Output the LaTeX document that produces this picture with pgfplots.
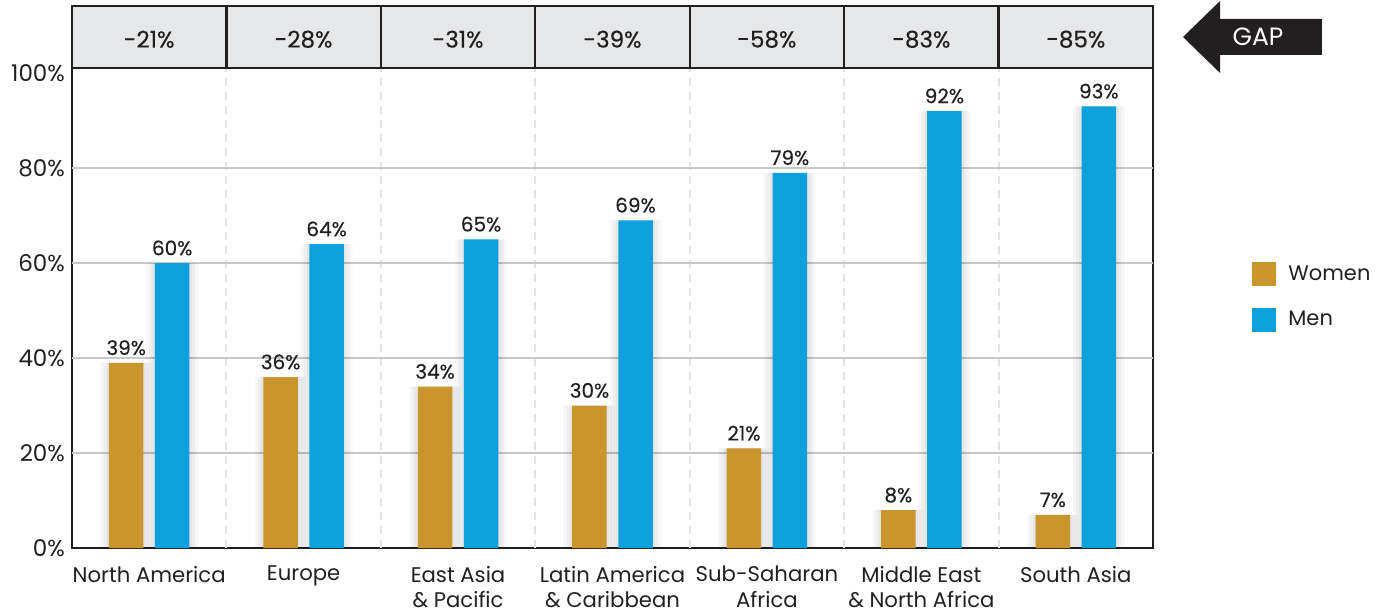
\documentclass[border=0pt]{standalone}
\usepackage{fontspec}
\setmainfont{Poppins}
\newfontfamily\pmed[FakeBold=0.4]{Poppins}
\usepackage{pgfplots}
\pgfplotsset{compat=1.18}
\definecolor{women}{HTML}{C9952C}
\definecolor{men}{HTML}{0EA0DC}
\definecolor{dark}{HTML}{231F20}
\definecolor{hdr}{HTML}{E6E7E8}
\definecolor{gridc}{HTML}{C8C8C8}
\definecolor{dashc}{HTML}{E2E2E2}
\pgfplotstableread{
x women men
0 39 60
1 36 64
2 34 65
3 30 69
4 21 79
5 8 92
6 7 93
}\datatable
\pgfplotsset{
  shadowW/.style={ybar, bar width=#1, bar shift=-0.149, fill=black, draw=none, forget plot},
  shadowM/.style={ybar, bar width=#1, bar shift=0.149, fill=black, draw=none, forget plot},
}
\begin{document}
\begin{tikzpicture}
\begin{axis}[
  scale only axis, width=540.5pt, height=240pt,
  xmin=-0.5, xmax=6.5, ymin=0, ymax=101.05,
  clip=false,
  /pgf/number format/assume math mode=true,
  axis line style={dark, line width=1.4pt},
  major tick length=0pt,
  xtick={0,1,2,3,4,5,6},
  xticklabels={North America, Europe, East Asia\\\& Pacific, Latin America\\\& Caribbean, Sub-Saharan\\Africa, Middle East\\\& North Africa, South Asia},
  xticklabel style={align=center, font=\fontsize{10.6}{12.6}\selectfont, text=dark, yshift=-5.5pt},
  ytick={0,20,40,60,80,100},
  yticklabels={0\%,20\%,40\%,60\%,80\%,100\%},
  yticklabel style={font=\fontsize{11.5}{12}\selectfont, text=dark},
  extra y ticks={20,40,60,80},
  extra y tick labels={},
  extra y tick style={grid=major, major grid style={gridc, line width=1pt}},
  extra x ticks={0.5,1.5,2.5,3.5,4.5,5.5},
  extra x tick labels={},
  extra x tick style={grid=major, major grid style={dashc, line width=1pt, dash pattern=on 4pt off 3pt}},
  legend style={draw=none, fill=none, at={(1.086,0.523)}, anchor=west,
    font=\fontsize{10.5}{12}\selectfont, text=dark, row sep=10pt,
    /tikz/every odd column/.append style={column sep=4pt}},
  legend cell align=left,
]
% shadows
\addplot[shadowW=0.3334, fill opacity=0.03] table[x=x,y=women]{\datatable};
\addplot[shadowM=0.3334, fill opacity=0.03] table[x=x,y=men]{\datatable};
\addplot[shadowW=0.2934, fill opacity=0.035] table[x=x,y=women]{\datatable};
\addplot[shadowM=0.2934, fill opacity=0.035] table[x=x,y=men]{\datatable};
\addplot[shadowW=0.2534, fill opacity=0.04] table[x=x,y=women]{\datatable};
\addplot[shadowM=0.2534, fill opacity=0.04] table[x=x,y=men]{\datatable};
\addplot[ybar, bar width=0.2234, bar shift=-0.149, fill=women, draw=none,
  nodes near coords={\pgfmathprintnumber{\pgfplotspointmeta}\%},
  nodes near coords style={font=\pmed\fontsize{10}{11}\selectfont, text=dark, anchor=base, yshift=3.9pt, xshift=-11.5pt},
  legend image code/.code={\fill[women] (0pt,-6pt) rectangle (12pt,6pt);}]
  table[x=x,y=women]{\datatable};
\addlegendentry{Women}
\addplot[ybar, bar width=0.2234, bar shift=0.149, fill=men, draw=none,
  nodes near coords={\pgfmathprintnumber{\pgfplotspointmeta}\%},
  nodes near coords style={font=\pmed\fontsize{10}{11}\selectfont, text=dark, anchor=base, yshift=3.9pt, xshift=11.5pt},
  legend image code/.code={\fill[men] (0pt,-6pt) rectangle (12pt,6pt);}]
  table[x=x,y=men]{\datatable};
\addlegendentry{Men}
% header
\draw[dark, line width=1.2pt, fill=hdr] (axis cs:-0.5,101.05) rectangle (axis cs:6.5,114.1);
\draw[dark, line width=1.2pt] (axis cs:0.5,101.05) -- (axis cs:0.5,114.1);
\draw[dark, line width=1.2pt] (axis cs:1.5,101.05) -- (axis cs:1.5,114.1);
\draw[dark, line width=1.2pt] (axis cs:2.5,101.05) -- (axis cs:2.5,114.1);
\draw[dark, line width=1.2pt] (axis cs:3.5,101.05) -- (axis cs:3.5,114.1);
\draw[dark, line width=1.2pt] (axis cs:4.5,101.05) -- (axis cs:4.5,114.1);
\draw[dark, line width=1.2pt] (axis cs:5.5,101.05) -- (axis cs:5.5,114.1);
\node[font=\pmed\fontsize{11.5}{12}\selectfont, text=dark] at (axis cs:0,107.1) {-21\%};
\node[font=\pmed\fontsize{11.5}{12}\selectfont, text=dark] at (axis cs:1,107.1) {-28\%};
\node[font=\pmed\fontsize{11.5}{12}\selectfont, text=dark] at (axis cs:2,107.1) {-31\%};
\node[font=\pmed\fontsize{11.5}{12}\selectfont, text=dark] at (axis cs:3,107.1) {-39\%};
\node[font=\pmed\fontsize{11.5}{12}\selectfont, text=dark] at (axis cs:4,107.1) {-58\%};
\node[font=\pmed\fontsize{11.5}{12}\selectfont, text=dark] at (axis cs:5,107.1) {-83\%};
\node[font=\pmed\fontsize{11.5}{12}\selectfont, text=dark] at (axis cs:6,107.1) {-85\%};
% GAP arrow
\fill[dark] (axis cs:6.694,107.58) -- (axis cs:6.934,115.16) -- (axis cs:6.934,111.37) -- (axis cs:7.594,111.37) -- (axis cs:7.594,103.79) -- (axis cs:6.934,103.79) -- (axis cs:6.934,100) -- cycle;
\node[font=\fontsize{12.5}{13}\selectfont, text=white] at (axis cs:7.18,107.58) {GAP};
% bounding box
\path (axis cs:-0.966,-13.47) rectangle (axis cs:8.015,115.37);
\end{axis}
\end{tikzpicture}
\end{document}
